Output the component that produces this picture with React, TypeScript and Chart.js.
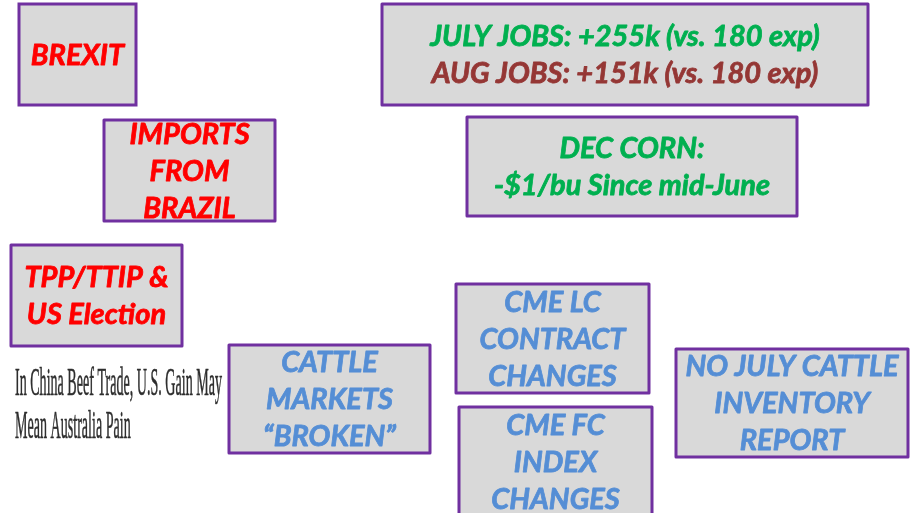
import React, { useEffect, useRef } from "react";
import { Chart, registerables } from "chart.js";

Chart.register(...registerables);

// Slide-space coordinates (x: 0..917 left→right, y: 0..513 top→bottom)
const boxTexts: string[][] = [
  ["BREXIT"],
  ["IMPORTS", "FROM", "BRAZIL"],
  ["TPP/TTIP &", "US Election"],
  ["JULY JOBS: +255k (vs. 180 exp)", "AUG JOBS: +151k (vs. 180 exp)"],
  ["DEC CORN:", "-$1/bu Since mid-June"],
  ["CATTLE", "MARKETS", "\u201CBROKEN\u201D"],
  ["CME LC", "CONTRACT", "CHANGES"],
  ["CME FC", "INDEX", "CHANGES"],
  ["NO JULY CATTLE", "INVENTORY", "REPORT"],
];
const boxLineColors: string[][] = [
  ["#ff0000"],
  ["#ff0000", "#ff0000", "#ff0000"],
  ["#ff0000", "#ff0000"],
  ["#00b050", "#953735"],
  ["#00b050", "#00b050"],
  ["#558ed5", "#558ed5", "#558ed5"],
  ["#558ed5", "#558ed5", "#558ed5"],
  ["#558ed5", "#558ed5", "#558ed5"],
  ["#558ed5", "#558ed5", "#558ed5"],
];
const boxLeft = [19, 104, 11, 382, 467, 229, 456, 459, 676];
const boxTop = [4, 120, 245, 4, 117, 345, 284, 407, 349];
const boxRight = [136, 275, 182, 868, 797, 430, 649, 652, 908];
const boxBottom = [105, 221, 346, 105, 216, 453, 393, 517, 457];

const headlineLines = ["In China Beef Trade, U.S. Gain May", "Mean Australia Pain"];
const headlineX = 15;
const headlineBaselines = [395, 438];
const headlineWidth = 207;

const LINE_STEP = 37;
const FONT_SIZE = 29;

const slidePlugin = {
  id: "slideBoxes",
  afterDraw(chart: any) {
    const ctx = chart.ctx as CanvasRenderingContext2D;
    const xs = chart.scales.x;
    const ys = chart.scales.y;
    ctx.save();
    for (let i = 0; i < boxTexts.length; i++) {
      const l = xs.getPixelForValue(boxLeft[i]);
      const r = xs.getPixelForValue(boxRight[i]);
      const t = ys.getPixelForValue(boxTop[i]);
      const b = ys.getPixelForValue(boxBottom[i]);
      ctx.fillStyle = "#d9d9d9";
      ctx.fillRect(l, t, r - l, b - t);
      ctx.strokeStyle = "#7030a0";
      ctx.lineWidth = 3;
      ctx.strokeRect(l, t, r - l, b - t);
      const lines = boxTexts[i];
      const cx = (l + r) / 2;
      const cy = (t + b) / 2;
      const step = ys.getPixelForValue(LINE_STEP) - ys.getPixelForValue(0);
      ctx.font = `italic bold ${FONT_SIZE}px Lato`;
      ctx.textAlign = "center";
      ctx.textBaseline = "alphabetic";
      ctx.lineJoin = "round";
      lines.forEach((s, j) => {
        const lc = cy + (j - (lines.length - 1) / 2) * step;
        ctx.fillStyle = boxLineColors[i][j];
        ctx.strokeStyle = boxLineColors[i][j];
        ctx.lineWidth = 0.8;
        const by = lc + FONT_SIZE * 0.36;
        ctx.fillText(s, cx, by);
        ctx.strokeText(s, cx, by);
      });
    }
    // headline clipping
    ctx.font = `40px "Liberation Serif"`;
    const w0 = ctx.measureText(headlineLines[0]).width;
    const sx = headlineWidth / w0;
    ctx.fillStyle = "#2e2e2e";
    ctx.strokeStyle = "#2e2e2e";
    ctx.lineWidth = 0.6;
    ctx.textAlign = "left";
    headlineLines.forEach((s, j) => {
      const px = xs.getPixelForValue(headlineX);
      const py = ys.getPixelForValue(headlineBaselines[j]);
      ctx.save();
      ctx.translate(px, py);
      ctx.scale(sx, 1);
      ctx.fillText(s, 0, 0);
      ctx.strokeText(s, 0, 0);
      ctx.restore();
    });
    ctx.restore();
  },
};

export default function App() {
  const ref = useRef<HTMLCanvasElement | null>(null);
  useEffect(() => {
    if (!ref.current) return;
    const chart = new Chart(ref.current, {
      type: "scatter",
      data: {
        datasets: [
          {
            data: boxLeft.map((v, i) => ({
              x: (v + boxRight[i]) / 2,
              y: (boxTop[i] + boxBottom[i]) / 2,
            })),
            pointRadius: 0,
          },
        ],
      },
      options: {
        animation: false,
        responsive: false,
        events: [],
        layout: { padding: 0 },
        plugins: { legend: { display: false }, tooltip: { enabled: false } },
        scales: {
          x: { type: "linear", min: 0, max: 917, display: false },
          y: { type: "linear", min: 0, max: 513, reverse: true, display: false },
        },
      },
      plugins: [slidePlugin],
    });
    return () => chart.destroy();
  }, []);
  return (
    <div style={{ position: "fixed", left: 0, top: 0, width: 917, height: 513, background: "#fff" }}>
      <canvas ref={ref} width={917} height={513} style={{ display: "block" }} />
    </div>
  );
}
